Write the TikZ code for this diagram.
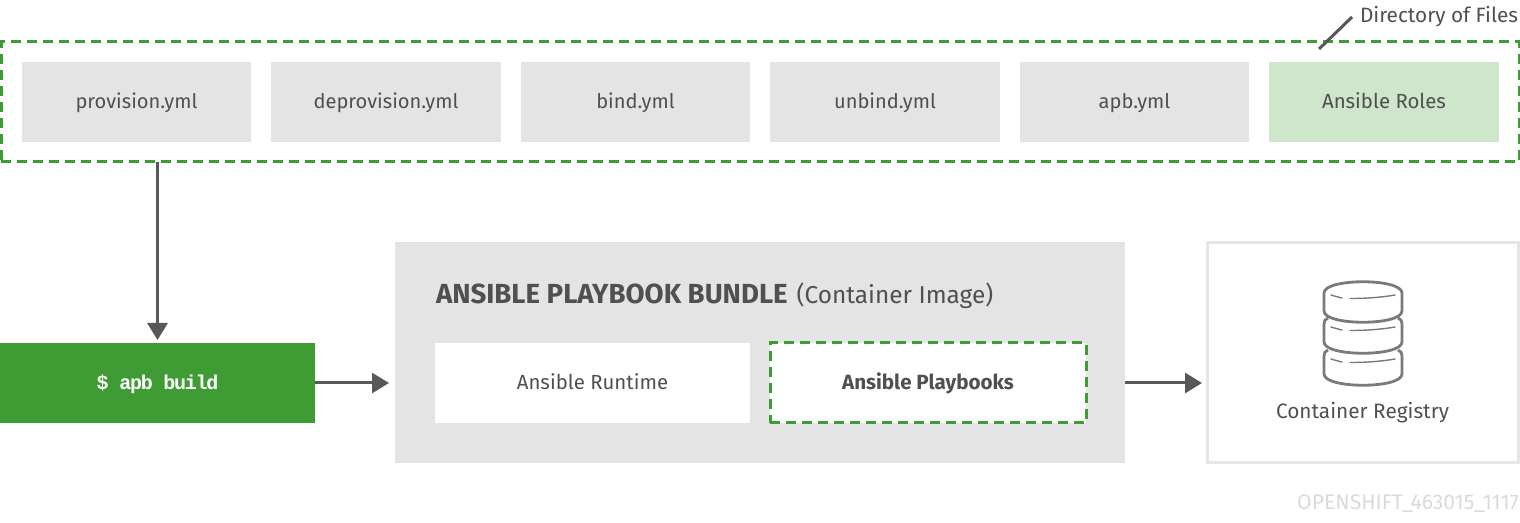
\documentclass[tikz,border=0pt]{standalone}
\usepackage{fontspec}
\setmainfont{Fira Sans}
\newfontfamily\codefont[LetterSpace=-6.5]{Liberation Mono}
\usetikzlibrary{arrows.meta}
\definecolor{rhgreen}{HTML}{3F9C35}
\definecolor{rhpale}{HTML}{CFE5CC}
\definecolor{rhgrey}{HTML}{E4E4E4}
\definecolor{rhtext}{HTML}{505050}
\definecolor{rhline}{HTML}{585858}
\definecolor{rhicon}{HTML}{7A7A7A}
\definecolor{rhedge}{HTML}{E6E6E6}
\definecolor{rhmark}{HTML}{DADADA}
\tikzset{
  base/.style={inner sep=0pt,outer sep=0pt,text=rhtext,text height=8pt,text depth=1pt,font=\fontsize{10.2pt}{12pt}\selectfont},
  filebox/.style={base,fill=rhgrey,minimum width=114.8pt,minimum height=40pt,font=\fontsize{10.05pt}{12pt}\selectfont},
  rolebox/.style={filebox,fill=rhpale,font=\fontsize{10.2pt}{12pt}\selectfont},
  greendash/.style={draw=rhgreen,line width=1.5pt,dash pattern=on 5pt off 3pt},
  conn/.style={draw=rhline,line width=1.5pt,-{Triangle[length=8.5pt,width=10pt]}},
  leader/.style={draw=rhline,line width=1.5pt},
  dbline/.style={draw=rhicon,line width=1.4pt,line join=round},
  dbfine/.style={draw=rhicon,line width=0.7pt,line cap=round},
}
\begin{document}
\begin{tikzpicture}[x=0.5pt,y=-0.5pt]
\useasboundingbox (0,0) rectangle (1520,523);
% directory
\node[base,greendash,minimum width=759pt,minimum height=60pt] (dir) at (760,102) {};
\node[filebox] (f1) at (136.5,102) {provision.yml};
\node[filebox] (f2) at (386,102) {deprovision.yml};
\node[filebox] (f3) at (635.5,102) {bind.yml};
\node[filebox] (f4) at (885,102) {unbind.yml};
\node[filebox] (f5) at (1134.5,102) {apb.yml};
\node[rolebox] (f6) at (1384,102) {Ansible Roles};
\node[base,anchor=west,font=\fontsize{10.4pt}{12pt}\selectfont] (dirlabel) at (1360,16) {Directory of Files};
\coordinate (leadtop) at (1352,17);
\coordinate (leadend) at (1319,49);
\draw[leader] (leadtop) -- (leadend);
% build
\node[base,fill=rhgreen,minimum width=157.5pt,minimum height=40pt,text=white,font=\codefont\bfseries\fontsize{10pt}{12pt}\selectfont] (build) at (157.5,383) {\$ apb build};
% bundle
\node[base,fill=rhgrey,minimum width=365pt,minimum height=110.5pt] (bundle) at (760,352.5) {};
\node[base,anchor=west,text height=9.5pt,text depth=1.2pt,font=\fontsize{12.2pt}{14pt}\selectfont] (title) at (436,295) {{\bfseries\fontsize{13.8pt}{14pt}\selectfont ANSIBLE PLAYBOOK BUNDLE}\hspace{4.5pt}(Container Image)};
\node[base,fill=white,minimum width=157.5pt,minimum height=40pt] (runtime) at (592.5,383) {Ansible Runtime};
\node[base,fill=white,greendash,minimum width=158pt,minimum height=40pt,font=\bfseries\fontsize{10.3pt}{12pt}\selectfont] (books) at (928,383) {Ansible Playbooks};
% registry
\node[base,draw=rhedge,line width=1.5pt,minimum width=155.5pt,minimum height=109.5pt] (reg) at (1362.5,352.5) {};
\node[base,font=\fontsize{10.4pt}{12pt}\selectfont] (reglabel) at (1362.5,412) {Container Registry};
% database icon
\draw[dbline] (1324,293) .. controls (1324,278) and (1402,278) .. (1402,293) -- (1402,311)
  .. controls (1402,326) and (1324,326) .. (1324,311) -- cycle;
\draw[dbline] (1328,318) .. controls (1325,319) and (1324,321) .. (1324,324) -- (1324,342) .. controls (1324,357) and (1402,357) .. (1402,342) -- (1402,324) .. controls (1402,321) and (1401,319) .. (1398,318);
\draw[dbline] (1328,350) .. controls (1325,351) and (1324,353) .. (1324,356) -- (1324,374) .. controls (1324,389) and (1402,389) .. (1402,374) -- (1402,356) .. controls (1402,353) and (1401,351) .. (1398,350);
\foreach \yy in {295,327,359}{
  \draw[dbfine] (1331,\yy) .. controls (1334,\yy+1) and (1338,\yy+2) .. (1342,\yy+3);
  \draw[dbfine] (1350,\yy+3.5) .. controls (1368,\yy+3.5) and (1384,\yy+2) .. (1395,\yy);
}
% connectors
\draw[conn,shorten >=1.5pt] (dir.south -| build.north) -- (build.north);
\draw[conn,shorten >=3pt] (build.east) -- (bundle.west |- build.east);
\draw[conn,shorten >=2.5pt] (bundle.east |- build.east) -- (reg.west |- build.east);
% mark
\node[base,anchor=east,text=rhmark,font=\fontsize{10.56pt}{12pt}\selectfont] (mark) at (1519,502) {OPENSHIFT\_463015\_1117};
\end{tikzpicture}
\end{document}
